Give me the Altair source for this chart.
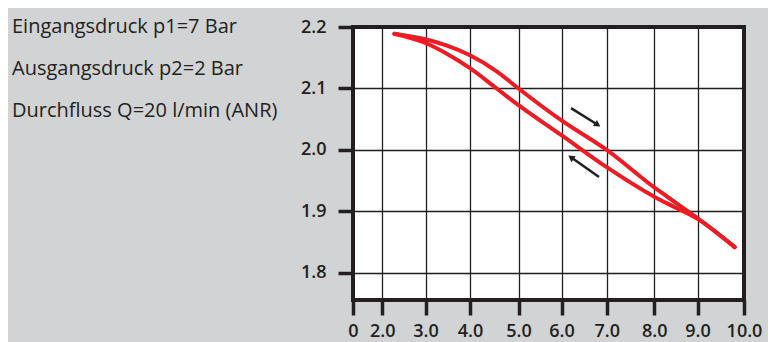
import altair as alt
import pandas as pd

# ---- data ----
x_ticks = [0, 2.0, 3.0, 4.0, 5.0, 6.0, 7.0, 8.0, 9.0, 10.0]
y_ticks = [1.8, 1.9, 2.0, 2.1, 2.2]

upper_x = [2.28, 3.0, 3.47, 4.0, 4.55, 5.0, 6.0, 7.0, 8.0, 8.5, 9.0, 9.80]
upper_y = [2.189, 2.180, 2.170, 2.154, 2.128, 2.100, 2.048, 2.000, 1.939, 1.914, 1.889, 1.842]
lower_x = [2.28, 3.0, 3.47, 4.0, 4.55, 5.0, 6.0, 7.0, 8.0, 8.5, 9.0, 9.80]
lower_y = [2.189, 2.174, 2.157, 2.133, 2.100, 2.073, 2.024, 1.972, 1.924, 1.906, 1.888, 1.842]

arrow_x1 = [6.21, 6.83]
arrow_y1 = [2.068, 1.956]
arrow_x2 = [6.80, 6.21]
arrow_y2 = [2.041, 1.988]
arrow_angle = [33, 35]
arrow_shape = ["triangle-right", "triangle-left"]

info_lines = ["Eingangsdruck p1=7 Bar", "Ausgangsdruck p2=2 Bar", "Durchfluss Q=20 l/min (ANR)"]

# ---- tables ----
curves = pd.concat([
    pd.DataFrame({"x": upper_x, "y": upper_y, "s": "up"}),
    pd.DataFrame({"x": lower_x, "y": lower_y, "s": "down"}),
])
arrows = pd.DataFrame({"x1": arrow_x1, "y1": arrow_y1, "x2": arrow_x2, "y2": arrow_y2,
                       "angle": arrow_angle, "shape": arrow_shape})

W, H = 391, 273
x_range = [0, 29.2, 72.5, 117, 165.5, 208.5, 253.7, 301.3, 344.5, 391]
xscale = alt.Scale(domain=x_ticks, range=x_range, nice=False, zero=False)
yscale = alt.Scale(domain=[1.756, 2.2], nice=False, zero=False)

INK = "#231f20"
RED = "#ec1c24"
FONT = "Open Sans"

lines = alt.Chart(curves).mark_line(color=RED, strokeWidth=4, interpolate="monotone",
                                    strokeCap="round", strokeJoin="round").encode(
    x=alt.X("x:Q", scale=xscale,
            axis=alt.Axis(values=x_ticks, labelExpr="datum.value == 0 ? '0' : format(datum.value, '.1f')",
                          title=None, domain=False, grid=True, gridColor=INK, gridWidth=1.3,
                          tickColor=INK, tickWidth=3.5, tickSize=15, labelPadding=7,
                          labelFont=FONT, labelFontSize=18, labelFontWeight=600, labelColor=INK,
                          labelFlush=False, labelOverlap=False)),
    y=alt.Y("y:Q", scale=yscale,
            axis=alt.Axis(values=y_ticks, format=".1f", title=None, domain=False, grid=True,
                          gridColor=INK, gridWidth=1.3, tickColor=INK, tickWidth=3.5, tickSize=15,
                          labelPadding=12, labelFont=FONT, labelFontSize=18, labelFontWeight=600,
                          labelColor=INK, labelFlush=False, labelOverlap=False)),
    detail="s:N",
)

shafts = alt.Chart(arrows).mark_rule(color=INK, strokeWidth=2.5).encode(
    x=alt.X("x1:Q", scale=xscale), y=alt.Y("y1:Q", scale=yscale),
    x2="x2:Q", y2="y2:Q",
)
heads = alt.Chart(arrows).mark_point(filled=True, color=INK, opacity=1, size=55).encode(
    x=alt.X("x2:Q", scale=xscale), y=alt.Y("y2:Q", scale=yscale),
    angle=alt.Angle("angle:Q", scale=None),
    shape=alt.Shape("shape:N", scale=None),
)

info = alt.Chart(pd.DataFrame({"a": [0]})).mark_text(
    text=info_lines, align="left", baseline="alphabetic", font=FONT, fontSize=20,
    lineHeight=42, color=INK,
).encode(x=alt.value(-341), y=alt.value(6))

chart = alt.layer(lines, shafts, heads, info).properties(
    width=W, height=H,
    background="#d1d3d4",
    padding={"left": 345, "top": 19, "right": 24, "bottom": 42},
    autosize=alt.AutoSizeParams(type="none"),
).configure_view(fill="white", stroke=INK, strokeWidth=4)

chart.save("out.html", embed_options={"renderer": "svg", "actions": False})
